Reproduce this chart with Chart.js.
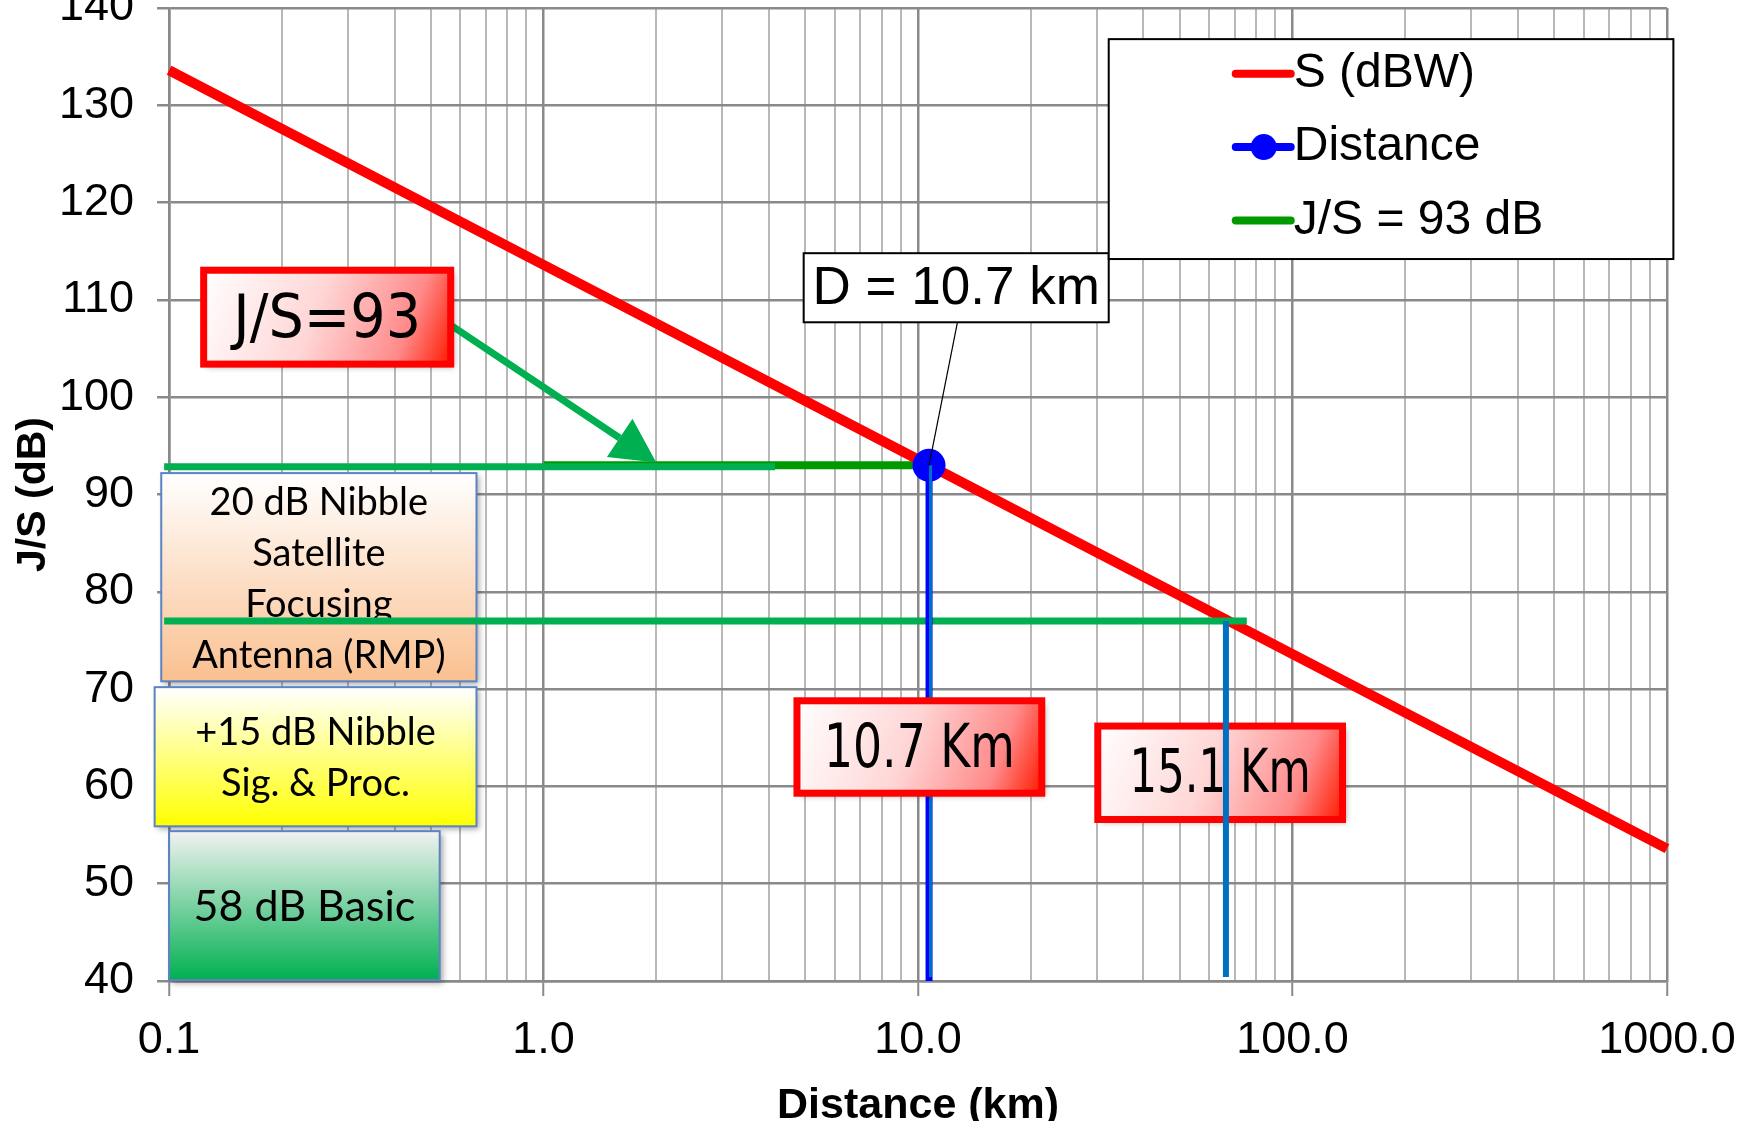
<!DOCTYPE html>
<html>
<head>
<meta charset="utf-8">
<script src="https://cdn.jsdelivr.net/npm/chart.js@4.4.0/dist/chart.umd.min.js"></script>
<style>
html, body { margin: 0; padding: 0; background: #fff; overflow: hidden; }
#wrap { position: relative; width: 1746px; height: 1121px; overflow: hidden; }
#wrap canvas { position: absolute; left: 0; top: -42px; }
</style>
</head>
<body>
<div id="wrap"><canvas id="jsChart" width="1746" height="1170"></canvas></div>
<script>
// данные графика
const sDistance = [0.1, 1, 10, 100, 1000];
const sValues = [133.6, 113.6, 93.6, 73.6, 53.6];

const distX = [10.7, 10.7];
const distY = [93, 40];

const js93X = [1.0, 10.7];
const js93Y = [93, 93];

// линии-фигуры, нарисованные поверх графика
const shape93X = [0.097, 4.15];
const shape93Y = [92.85, 92.85];
const shape77X = [0.097, 75.5];
const shape77Y = [77, 77];
const mark107X = [10.8, 10.8];
const mark107Y = [93, 40.4];
const mark151X = [66.4, 66.4];
const mark151Y = [77, 40.4];

const xMajor = [0.1, 1, 10, 100, 1000];
const xTickLabels = ['0.1', '1.0', '10.0', '100.0', '1000.0'];

const legendOrder = ['S (dBW)', 'Distance', 'J/S = 93 dB'];

const toPts = (xs, ys) => xs.map((x, i) => ({ x: x, y: ys[i] }));

// надписи (в координатах данных)
const notes = [
    { lines: ['20 dB Nibble', 'Satellite', 'Focusing', 'Antenna (RMP)'], x0: 0.0953, x1: 0.662, y0: 92.2, y1: 70.8,
      style: 'plain', c0: '#ffffff', c1: '#fac090', size: 38, layer: 'under' },
    { lines: ['+15 dB Nibble', 'Sig. & Proc.'], x0: 0.0915, x1: 0.662, y0: 70.2, y1: 55.9,
      style: 'plain', c0: '#ffffff', c1: '#ffff00', size: 38, layer: 'under' },
    { lines: ['58 dB Basic'], x0: 0.1, x1: 0.528, y0: 55.4, y1: 40.1,
      style: 'plain', c0: '#f2f2f2', c1: '#00b050', size: 43, layer: 'under' },
    { lines: ['15.1 Km'], x0: 30.2, x1: 136, y0: 66.2, y1: 56.6, style: 'red', fit: 0.74, layer: 'under' },
    { lines: ['10.7 Km'], x0: 4.75, x1: 21.4, y0: 68.8, y1: 59.3, style: 'red', fit: 0.78, layer: 'over' },
    { lines: ['J/S=93'], x0: 0.1237, x1: 0.565, y0: 113.05, y1: 103.4, style: 'red', fit: 0.76, layer: 'over' }
];

function drawNote(ctx, chart, n) {
    const xs = chart.scales.x, ys = chart.scales.y;
    const l = xs.getPixelForValue(n.x0), r = xs.getPixelForValue(n.x1);
    const t = ys.getPixelForValue(n.y0), b = ys.getPixelForValue(n.y1);
    ctx.save();
    let g;
    if (n.style === 'red') {
        g = ctx.createLinearGradient(l, t, r, b);
        g.addColorStop(0, '#ffffff');
        g.addColorStop(0.45, '#ffd6d6');
        g.addColorStop(0.8, '#ff8a8a');
        g.addColorStop(1, '#ff1a00');
    } else {
        g = ctx.createLinearGradient(0, t, 0, b);
        g.addColorStop(0, n.c0);
        g.addColorStop(1, n.c1);
    }
    ctx.shadowColor = 'rgba(0,0,0,0.35)';
    ctx.shadowBlur = 6;
    ctx.shadowOffsetX = 3;
    ctx.shadowOffsetY = 3;
    ctx.fillStyle = g;
    ctx.fillRect(l, t, r - l, b - t);
    ctx.shadowColor = 'transparent';
    if (n.style === 'red') {
        ctx.strokeStyle = '#ff0000';
        ctx.lineWidth = 7;
    } else {
        ctx.strokeStyle = '#5b84c4';
        ctx.lineWidth = 2;
    }
    ctx.strokeRect(l, t, r - l, b - t);
    ctx.fillStyle = '#000';
    ctx.textBaseline = 'middle';
    const cx = (l + r) / 2, cy = (t + b) / 2;
    if (n.style === 'red') {
        // текст сжат по ширине, как в оригинале
        ctx.font = '60px "Comic Sans MS", "DejaVu Sans", sans-serif';
        ctx.textAlign = 'left';
        const w = ctx.measureText(n.lines[0]).width;
        const k = (r - l) * n.fit / w;
        ctx.translate(cx - w * k / 2, cy + 4);
        ctx.scale(k, 1);
        ctx.fillText(n.lines[0], 0, 0);
    } else {
        ctx.font = n.size + 'px Lato, Calibri, "Open Sans", sans-serif';
        ctx.textAlign = 'center';
        const lh = 51;
        const y0 = cy - (n.lines.length - 1) * lh / 2 + 2;
        n.lines.forEach((s, i) => ctx.fillText(s, cx, y0 + i * lh));
    }
    ctx.restore();
}

const notesPlugin = {
    id: 'notes',
    beforeDatasetsDraw(chart) {
        const ctx = chart.ctx;
        notes.filter(n => n.layer === 'under').forEach(n => drawNote(ctx, chart, n));
    },
    afterDatasetsDraw(chart) {
        const ctx = chart.ctx;
        const xs = chart.scales.x, ys = chart.scales.y;
        const px = (v) => xs.getPixelForValue(v);
        const py = (v) => ys.getPixelForValue(v);

        // зелёная стрелка
        const ax0 = px(0.565), ay0 = py(107.4);
        const ax1 = px(2.0), ay1 = py(93.3);
        const ang = Math.atan2(ay1 - ay0, ax1 - ax0);
        ctx.save();
        ctx.strokeStyle = '#00b050';
        ctx.fillStyle = '#00b050';
        ctx.lineWidth = 7;
        const hl = 44, hw = 23;
        const bx = ax1 - hl * Math.cos(ang), by = ay1 - hl * Math.sin(ang);
        ctx.beginPath();
        ctx.moveTo(ax0, ay0);
        ctx.lineTo(bx, by);
        ctx.stroke();
        ctx.beginPath();
        ctx.moveTo(ax1, ay1);
        ctx.lineTo(bx + hw * Math.sin(ang), by - hw * Math.cos(ang));
        ctx.lineTo(bx - hw * Math.sin(ang), by + hw * Math.cos(ang));
        ctx.closePath();
        ctx.fill();
        ctx.restore();

        notes.filter(n => n.layer === 'over').forEach(n => drawNote(ctx, chart, n));

        // выноска D = 10.7 km
        ctx.save();
        ctx.strokeStyle = '#000';
        ctx.lineWidth = 1.2;
        ctx.beginPath();
        ctx.moveTo(px(12.74), py(107.7));
        ctx.lineTo(px(10.7), py(93));
        ctx.stroke();
        const dl = px(4.95), dr = px(32.3), dt = py(114.8), db = py(107.7);
        ctx.fillStyle = '#fff';
        ctx.fillRect(dl, dt, dr - dl, db - dt);
        ctx.lineWidth = 2;
        ctx.strokeRect(dl, dt, dr - dl, db - dt);
        ctx.fillStyle = '#000';
        ctx.font = '53px "Liberation Sans", Arial, sans-serif';
        ctx.textAlign = 'center';
        ctx.textBaseline = 'middle';
        ctx.fillText('D = 10.7 km', (dl + dr) / 2, (dt + db) / 2 + 2);
        ctx.restore();

        // легенда
        const ll = px(32.3), lr = px(1040), lt = py(136.8), lb = py(114.2);
        ctx.save();
        ctx.fillStyle = '#fff';
        ctx.fillRect(ll, lt, lr - ll, lb - lt);
        ctx.strokeStyle = '#000';
        ctx.lineWidth = 2;
        ctx.strokeRect(ll, lt, lr - ll, lb - lt);
        const items = legendOrder.map(name => chart.data.datasets.find(d => d.label === name));
        const step = (lb - lt) / items.length;
        items.forEach((d, i) => {
            const y = lt + step * (i + 0.5) - 2;
            const sx = ll + 127;
            ctx.strokeStyle = d.borderColor;
            ctx.lineWidth = 8;
            ctx.lineCap = 'round';
            ctx.beginPath();
            ctx.moveTo(sx, y);
            ctx.lineTo(sx + 55, y);
            ctx.stroke();
            if (d.label === 'Distance') {
                ctx.fillStyle = d.borderColor;
                ctx.beginPath();
                ctx.arc(sx + 28, y, 13, 0, Math.PI * 2);
                ctx.fill();
            }
            ctx.fillStyle = '#000';
            ctx.font = '48px "Liberation Sans", Arial, sans-serif';
            ctx.textAlign = 'left';
            ctx.textBaseline = 'middle';
            ctx.fillText(d.label, sx + 58, y);
        });
        ctx.restore();
    }
};

Chart.defaults.font.family = '"Liberation Sans", Arial, sans-serif';
Chart.defaults.color = '#000';

const ctx = document.getElementById('jsChart').getContext('2d');
const chart = new Chart(ctx, {
    type: 'line',
    data: {
        datasets: [
            {
                label: 'mark107', data: toPts(mark107X, mark107Y),
                borderColor: '#0070c0', borderWidth: 3, pointRadius: 0, clip: 12
            },
            {
                label: 'Distance', data: toPts(distX, distY),
                borderColor: '#0000ff', backgroundColor: '#0000ff', borderWidth: 7,
                pointRadius: [13, 0], pointHoverRadius: 0, clip: 12
            },
            {
                label: 'mark151', data: toPts(mark151X, mark151Y),
                borderColor: '#0070c0', borderWidth: 6, pointRadius: 0, clip: 12
            },
            {
                label: 'shape77', data: toPts(shape77X, shape77Y),
                borderColor: '#00b050', borderWidth: 7, pointRadius: 0, clip: 12
            },
            {
                label: 'shape93', data: toPts(shape93X, shape93Y),
                borderColor: '#00b050', borderWidth: 7, pointRadius: 0, clip: 12
            },
            {
                label: 'S (dBW)', data: toPts(sDistance, sValues),
                borderColor: '#ff0000', borderWidth: 10, pointRadius: 0, clip: 12
            },
            {
                label: 'J/S = 93 dB', data: toPts(js93X, js93Y),
                borderColor: '#009900', borderWidth: 8, pointRadius: 0, clip: 12
            }
        ]
    },
    options: {
        responsive: false,
        animation: false,
        events: [],
        layout: { padding: { left: 13, right: 79, top: 0, bottom: 0 } },
        plugins: {
            legend: { display: false },
            tooltip: { enabled: false }
        },
        scales: {
            x: {
                type: 'logarithmic',
                min: 0.1,
                max: 1000,
                afterBuildTicks: (scale) => {
                    const ticks = [];
                    xMajor.forEach((v, i) => {
                        ticks.push({ value: v, major: true });
                        if (i < xMajor.length - 1) {
                            for (let k = 2; k <= 9; k++) ticks.push({ value: v * k, major: false });
                        }
                    });
                    scale.ticks = ticks;
                },
                // подпись 1000.0 не должна сдвигать область графика
                afterFit: (scale) => {
                    scale.paddingLeft = 0;
                    scale.paddingRight = 0;
                },
                ticks: {
                    autoSkip: false,
                    maxRotation: 0,
                    padding: 22,
                    font: { size: 45, lineHeight: 1 },
                    callback: (value) => {
                        const i = xMajor.indexOf(value);
                        return i >= 0 ? xTickLabels[i] : '';
                    }
                },
                grid: {
                    color: (c) => (c.tick && c.tick.major ? '#8a8a8a' : '#b8b8b8'),
                    lineWidth: (c) => (c.tick && c.tick.major ? 2.5 : 2),
                    tickLength: 15,
                    tickColor: (c) => (c.tick && c.tick.major ? '#8a8a8a' : 'rgba(0,0,0,0)'),
                    tickWidth: 2
                },
                border: { color: '#8a8a8a', width: 2.5 },
                title: {
                    display: true,
                    text: 'Distance (km)',
                    font: { size: 43, weight: 'bold', lineHeight: 1 },
                    padding: { top: 0, bottom: 0 }
                }
            },
            y: {
                min: 40,
                max: 140,
                ticks: {
                    stepSize: 10,
                    padding: 23,
                    font: { size: 45 }
                },
                grid: {
                    color: '#8a8a8a',
                    lineWidth: 2.5,
                    tickLength: 12,
                    tickColor: '#8a8a8a'
                },
                border: { color: '#8a8a8a', width: 2.5 },
                title: {
                    display: true,
                    text: 'J/S (dB)',
                    font: { size: 41, weight: 'bold', lineHeight: 1 },
                    padding: { top: 0, bottom: -18 }
                }
            }
        }
    },
    plugins: [notesPlugin]
});
</script>
</body>
</html>
